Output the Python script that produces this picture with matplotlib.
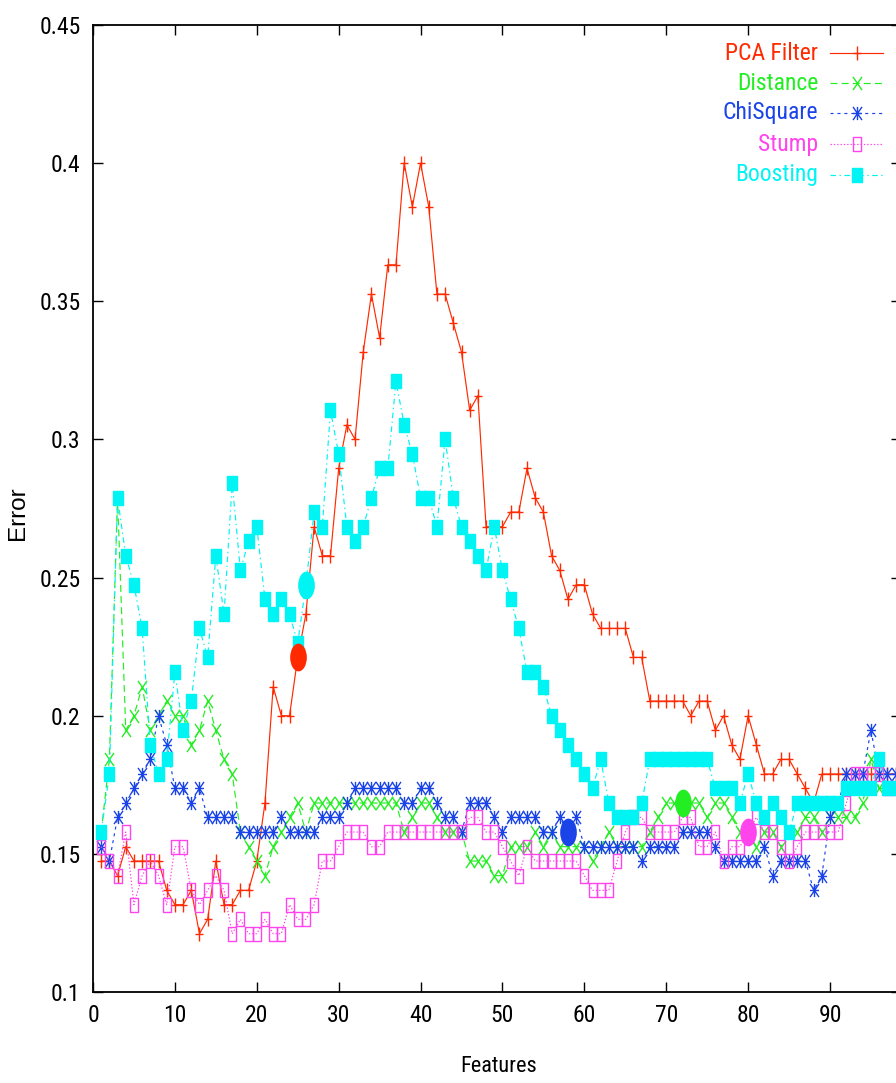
import numpy as np
import matplotlib
matplotlib.use("Agg")
import matplotlib.pyplot as plt
from matplotlib.path import Path
from matplotlib.lines import Line2D
from matplotlib.transforms import Affine2D

# ---------------- data ----------------
features = list(range(1, 99))

pca_filter = [0.1474,0.1474,0.1421,0.1526,0.1474,0.1474,0.1474,0.1474,0.1368,0.1316,
 0.1316,0.1368,0.1211,0.1263,0.1474,0.1316,0.1316,0.1368,0.1368,0.1474,
 0.1684,0.2105,0.2000,0.2000,0.2211,0.2368,0.2684,0.2579,0.2579,0.2895,
 0.3053,0.3000,0.3316,0.3526,0.3368,0.3632,0.3632,0.4000,0.3842,0.4000,
 0.3842,0.3526,0.3526,0.3421,0.3316,0.3105,0.3158,0.2684,0.2684,0.2684,
 0.2737,0.2737,0.2895,0.2789,0.2737,0.2579,0.2526,0.2421,0.2474,0.2474,
 0.2368,0.2316,0.2316,0.2316,0.2316,0.2211,0.2211,0.2053,0.2053,0.2053,
 0.2053,0.2053,0.2000,0.2053,0.2053,0.1947,0.2000,0.1895,0.1842,0.2000,
 0.1895,0.1789,0.1789,0.1842,0.1842,0.1789,0.1737,0.1684,0.1789,0.1789,
 0.1789,0.1789,0.1789,0.1789,0.1789,0.1789,0.1789,0.1789]

distance = [0.1579,0.1842,0.2789,0.1947,0.2000,0.2105,0.1947,0.2000,0.2053,0.2000,
 0.2000,0.1895,0.1947,0.2053,0.1947,0.1842,0.1789,0.1579,0.1526,0.1474,
 0.1421,0.1526,0.1579,0.1632,0.1684,0.1579,0.1684,0.1684,0.1684,0.1684,
 0.1684,0.1684,0.1684,0.1684,0.1684,0.1684,0.1684,0.1579,0.1632,0.1684,
 0.1684,0.1632,0.1579,0.1579,0.1579,0.1474,0.1474,0.1474,0.1421,0.1421,
 0.1526,0.1526,0.1526,0.1579,0.1526,0.1579,0.1526,0.1526,0.1526,0.1526,
 0.1474,0.1526,0.1579,0.1526,0.1526,0.1526,0.1526,0.1579,0.1632,0.1684,
 0.1684,0.1684,0.1684,0.1684,0.1632,0.1684,0.1684,0.1632,0.1579,0.1579,
 0.1526,0.1579,0.1579,0.1526,0.1579,0.1579,0.1632,0.1632,0.1579,0.1632,
 0.1632,0.1632,0.1632,0.1684,0.1842,0.1737,0.1737,0.1737]

chisquare = [0.1526,0.1474,0.1632,0.1684,0.1737,0.1789,0.1842,0.2000,0.1895,0.1737,
 0.1737,0.1684,0.1737,0.1632,0.1632,0.1632,0.1632,0.1579,0.1579,0.1579,
 0.1579,0.1579,0.1632,0.1579,0.1579,0.1579,0.1579,0.1632,0.1632,0.1632,
 0.1684,0.1737,0.1737,0.1737,0.1737,0.1737,0.1737,0.1684,0.1684,0.1737,
 0.1737,0.1684,0.1632,0.1632,0.1579,0.1684,0.1684,0.1684,0.1632,0.1579,
 0.1632,0.1632,0.1632,0.1632,0.1579,0.1579,0.1632,0.1579,0.1632,0.1526,
 0.1526,0.1526,0.1526,0.1526,0.1526,0.1526,0.1474,0.1526,0.1526,0.1526,
 0.1526,0.1579,0.1579,0.1579,0.1579,0.1526,0.1474,0.1474,0.1474,0.1474,
 0.1474,0.1526,0.1421,0.1474,0.1474,0.1474,0.1474,0.1368,0.1421,0.1632,
 0.1684,0.1789,0.1789,0.1789,0.1947,0.1789,0.1789,0.1789]

stump = [0.1526,0.1474,0.1421,0.1579,0.1316,0.1421,0.1474,0.1421,0.1316,0.1526,
 0.1526,0.1368,0.1316,0.1368,0.1421,0.1368,0.1211,0.1263,0.1211,0.1211,
 0.1263,0.1211,0.1211,0.1316,0.1263,0.1263,0.1316,0.1474,0.1474,0.1526,
 0.1579,0.1579,0.1579,0.1526,0.1526,0.1579,0.1579,0.1579,0.1579,0.1579,
 0.1579,0.1579,0.1579,0.1579,0.1579,0.1632,0.1632,0.1579,0.1579,0.1526,
 0.1474,0.1421,0.1526,0.1474,0.1474,0.1474,0.1474,0.1474,0.1474,0.1421,
 0.1368,0.1368,0.1368,0.1474,0.1579,0.1632,0.1632,0.1579,0.1579,0.1579,
 0.1579,0.1632,0.1632,0.1526,0.1526,0.1579,0.1474,0.1526,0.1526,0.1579,
 0.1632,0.1579,0.1579,0.1526,0.1474,0.1526,0.1579,0.1579,0.1579,0.1579,
 0.1579,0.1684,0.1789,0.1789,0.1789,0.1789,0.1737,0.1737]

boosting = [0.1579,0.1789,0.2789,0.2579,0.2474,0.2316,0.1895,0.1789,0.1842,0.2158,
 0.1947,0.2053,0.2316,0.2211,0.2579,0.2368,0.2842,0.2526,0.2632,0.2684,
 0.2421,0.2368,0.2421,0.2368,0.2263,0.2474,0.2737,0.2684,0.3105,0.2947,
 0.2684,0.2632,0.2684,0.2789,0.2895,0.2895,0.3211,0.3053,0.2947,0.2789,
 0.2789,0.2684,0.3000,0.2789,0.2684,0.2632,0.2579,0.2526,0.2684,0.2526,
 0.2421,0.2316,0.2158,0.2158,0.2105,0.2000,0.1947,0.1895,0.1842,0.1789,
 0.1737,0.1842,0.1684,0.1632,0.1632,0.1632,0.1684,0.1842,0.1842,0.1842,
 0.1842,0.1842,0.1842,0.1842,0.1842,0.1737,0.1737,0.1737,0.1684,0.1789,
 0.1684,0.1632,0.1684,0.1632,0.1579,0.1684,0.1684,0.1684,0.1684,0.1684,
 0.1684,0.1737,0.1737,0.1737,0.1737,0.1842,0.1737,0.1737]

series_names = ["PCA Filter", "Distance", "ChiSquare", "Stump", "Boosting"]
series_values = [pca_filter, distance, chisquare, stump, boosting]
# selected number of features for each method (big oval markers)
best_features = [25, 72, 58, 80, 26]

x_ticks = [0, 10, 20, 30, 40, 50, 60, 70, 80, 90]
y_ticks = [0.1, 0.15, 0.2, 0.25, 0.3, 0.35, 0.4, 0.45]
y_tick_labels = ["0.1", "0.15", "0.2", "0.25", "0.3", "0.35", "0.4", "0.45"]

# ---------------- style ----------------
plt.rcParams['lines.scale_dashes'] = False
NARROW = ['Roboto Condensed', 'Liberation Sans Narrow', 'Liberation Sans']
REG = ['Liberation Sans', 'DejaVu Sans']

colors = ['#ff2a00', '#22ee22', '#1a44e8', '#ff44ee', '#00f4f4']
ls = ['-', (0, (5, 3)), (0, (2.2, 2.8)), (0, (1, 1.4)), (0, (4, 2.5, 1, 2.5))]

hx = 0.34
plus_m = Path([(-hx, 0), (hx, 0), (0, -0.5), (0, 0.5)],
              [Path.MOVETO, Path.LINETO, Path.MOVETO, Path.LINETO])
cross_m = Path([(-hx, -0.5), (hx, 0.5), (-hx, 0.5), (hx, -0.5)],
               [Path.MOVETO, Path.LINETO, Path.MOVETO, Path.LINETO])
star_m = Path([(-hx, 0), (hx, 0), (0, -0.5), (0, 0.5),
               (-hx, -0.5), (hx, 0.5), (-hx, 0.5), (hx, -0.5)],
              [Path.MOVETO, Path.LINETO] * 4)
sq_m = Path([(-hx, -0.5), (hx, -0.5), (hx, 0.5), (-hx, 0.5), (-hx, -0.5)],
            [Path.MOVETO, Path.LINETO, Path.LINETO, Path.LINETO, Path.CLOSEPOLY])
ell_m = Path.unit_circle().transformed(Affine2D().scale(0.3, 0.5))

markers = [plus_m, cross_m, star_m, sq_m, sq_m]
msizes = [9.5, 9.5, 9.5, 9.4, 10.2]
mfcs = ['none', 'none', 'none', 'none', colors[4]]

W, H = 896, 1083
fig = plt.figure(figsize=(W / 100, H / 100), dpi=100)
x_left_px, x_right_px = 93, 901
y_top_px, y_bot_px = 25, 992
ax = fig.add_axes([x_left_px / W, 1 - y_bot_px / H,
                   (x_right_px - x_left_px) / W, (y_bot_px - y_top_px) / H])
px_per_unit = (830 - 93) / 90.0
ax.set_xlim(0, (x_right_px - x_left_px) / px_per_unit)
ax.set_ylim(0.1, 0.45)

for i, (name, vals) in enumerate(zip(series_names, series_values)):
    ax.plot(features, vals, color=colors[i], linestyle=ls[i], linewidth=0.85,
            marker=markers[i], markersize=msizes[i], markeredgewidth=1.0,
            markerfacecolor=mfcs[i], markeredgecolor=colors[i], zorder=3 + i * 0.1,
            clip_on=True)

for i, bf in enumerate(best_features):
    ax.plot([bf], [series_values[i][features.index(bf)]], linestyle='none',
            marker=ell_m, markersize=20, color=colors[i], markeredgewidth=0, zorder=10)

ax.set_xticks(x_ticks)
ax.set_yticks(y_ticks)
ax.set_yticklabels(y_tick_labels)
ax.tick_params(direction='in', length=7, width=1.0, top=True, right=True,
               labelsize=17, pad=9)
for lab in ax.get_xticklabels() + ax.get_yticklabels():
    lab.set_family(NARROW)
for sp in ax.spines.values():
    sp.set_linewidth(1.3)

fig.text(499 / W, 1 - 1066 / H, "Features", ha='center', va='center',
         fontsize=16, family=NARROW)
fig.text(18 / W, 1 - 513 / H, "Error", ha='center', va='center', rotation=90,
         fontsize=17.5, family=REG)

# ---------------- legend (manual, gnuplot style) ----------------
leg_rows = [53, 83, 113, 144, 175]
for i, name in enumerate(series_names):
    yf = 1 - leg_rows[i] / H
    fig.text(818 / W, yf, name, ha='right', va='center', fontsize=17,
             color=colors[i], family=NARROW)
    fig.add_artist(Line2D([830 / W, 883 / W], [yf, yf], transform=fig.transFigure,
                          color=colors[i], linestyle=ls[i], linewidth=0.85))
    fig.add_artist(Line2D([857 / W], [yf], transform=fig.transFigure,
                          linestyle='none', marker=markers[i], markersize=msizes[i],
                          markeredgewidth=1.0, markerfacecolor=mfcs[i],
                          markeredgecolor=colors[i]))

fig.savefig("out.png", dpi=100)
